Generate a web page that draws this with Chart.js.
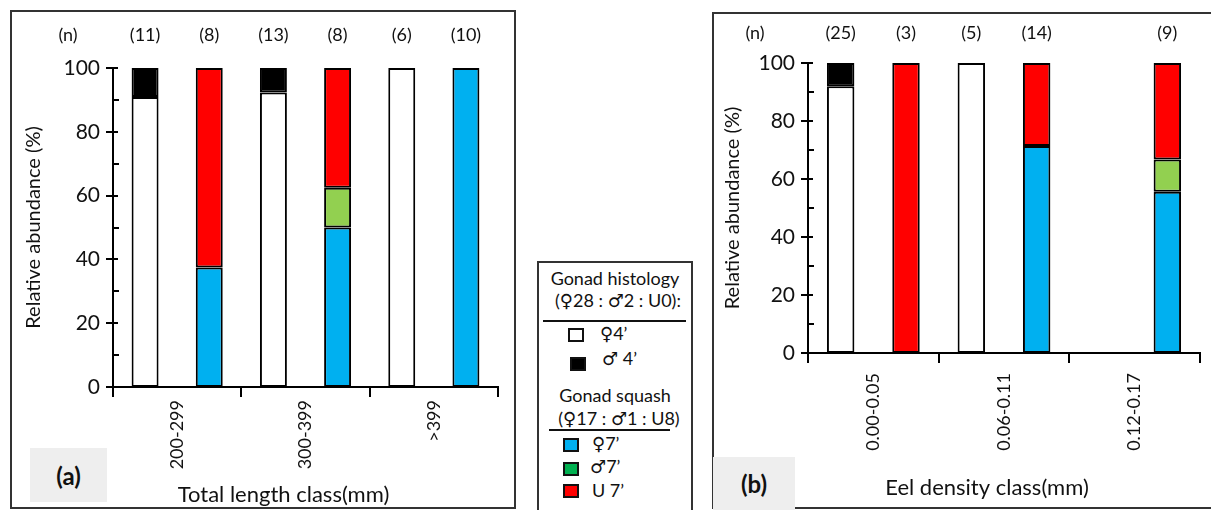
<!DOCTYPE html>
<html>
<head>
<meta charset="utf-8">
<script src="https://cdn.jsdelivr.net/npm/chart.js@4.4.0/dist/chart.umd.min.js"></script>
<style>
  body { margin: 0; width: 1211px; height: 510px; background: #fff; position: relative; overflow: hidden;
         font-family: Lato, "DejaVu Sans", sans-serif; color: #111; }
  .panel { position: absolute; border: 2px solid #333; box-sizing: border-box; }
  .tag { position: absolute; background: #eeeeee; font-weight: bold; font-size: 24px;
         display: flex; align-items: center; justify-content: center; }
  canvas { position: absolute; top: 0; }
  .lg { position: absolute; font-size: 18px; white-space: nowrap; line-height: 20px; }
  .sq { position: absolute; width: 16px; height: 14px; border: 2px solid #111; box-sizing: border-box; }
  .rule { position: absolute; height: 2px; background: #111; }
</style>
</head>
<body>
<div class="panel" style="left:10px; top:10px; width:506px; height:499px;"></div>
<div class="panel" style="left:712px; top:12px; width:520px; height:497px;"></div>
<div class="tag" style="left:30px; top:448px; width:77px; height:54px;">(a)</div>
<div class="tag" style="left:713px; top:457px; width:82px; height:53px;">(b)</div>

<canvas id="chartA" width="520" height="510" style="left:0px;"></canvas>
<canvas id="chartB" width="511" height="510" style="left:700px;"></canvas>

<div class="panel" style="left:537px; top:261px; width:156px; height:262px;"></div>
<div class="lg" style="left:537px; width:156px; text-align:center; top:268px;">Gonad histology</div>
<div class="lg" style="left:540px; width:156px; text-align:center; top:290px;">(♀28 : ♂2 : U0):</div>
<div class="rule" style="left:543px; width:143px; top:320px;"></div>
<div class="sq" style="left:568px; top:328px; background:#fff;"></div>
<div class="lg" style="left:600px; top:323px;">♀4’</div>
<div class="sq" style="left:570px; top:357px; background:#000;"></div>
<div class="lg" style="left:602px; top:348px;">♂ 4’</div>
<div class="lg" style="left:537px; width:156px; text-align:center; top:385px;">Gonad squash</div>
<div class="lg" style="left:541px; width:156px; text-align:center; top:408px;">(♀17 : ♂1 : U8)</div>
<div class="rule" style="left:549px; width:121px; top:429px;"></div>
<div class="sq" style="left:563px; top:438px; background:#00b0f0;"></div>
<div class="lg" style="left:592px; top:433px;">♀7’</div>
<div class="sq" style="left:563px; top:462px; background:#00b050;"></div>
<div class="lg" style="left:590px; top:456px;">♂7’</div>
<div class="sq" style="left:563px; top:484px; background:#ff0000;"></div>
<div class="lg" style="left:592px; top:480px;">U 7’</div>

<script>
// categories
const lengthClasses = ['200-299', '300-399', '>399'];
const densityClasses = ['0.00-0.05', '0.06-0.11', '0.12-0.17'];

// panel (a) - relative abundance (%) by total length class
const histFemaleA = [90.9, 92.3, 100];
const histMaleA = [9.1, 7.7, null];
const squashFemaleA = [37.5, 50, 100];
const squashMaleA = [null, 12.5, null];
const squashUndiffA = [62.5, 37.5, null];
const nHistA = [11, 13, 6];
const nSquashA = [8, 8, 10];

// panel (b) - relative abundance (%) by eel density class
const histFemaleB = [92, 100, null];
const histMaleB = [8, null, null];
const squashFemaleB = [null, 71.4, 55.6];
const squashMaleB = [null, null, 11.1];
const squashUndiffB = [100, 28.6, 33.3];
const nHistB = [25, 5, null];
const nSquashB = [3, 14, 9];

const FONT = 'Lato, "DejaVu Sans", sans-serif';
Chart.defaults.font.family = FONT;
Chart.defaults.color = '#111';

// tick marks on the y axis, the (n) counts and the x axis title
const panelDecor = {
    id: 'panelDecor',
    afterDraw(chart, args, opts) {
        const ctx = chart.ctx;
        const area = chart.chartArea;
        const y = chart.scales.y;
        ctx.save();
        ctx.strokeStyle = '#000';
        ctx.lineWidth = 2;
        for (let v = 0; v <= 100; v += 10) {
            const py = Math.round(y.getPixelForValue(v));
            ctx.beginPath();
            if (v % 20 === 0) {
                ctx.moveTo(area.left - 7, py);
                ctx.lineTo(area.left + 5, py);
            } else {
                ctx.moveTo(area.left, py);
                ctx.lineTo(area.left + 6, py);
            }
            ctx.stroke();
        }

        ctx.fillStyle = '#111';
        ctx.textAlign = 'center';
        ctx.textBaseline = 'middle';
        ctx.font = '18px ' + FONT;
        ctx.fillText('(n)', opts.nX, opts.nY);
        const histBars = chart.getDatasetMeta(0).data;
        const squashBars = chart.getDatasetMeta(2).data;
        opts.nHist.forEach((n, i) => {
            if (n != null) ctx.fillText('(' + n + ')', histBars[i].x, opts.nY);
        });
        opts.nSquash.forEach((n, i) => {
            if (n != null) ctx.fillText('(' + n + ')', squashBars[i].x, opts.nY);
        });

        ctx.font = '22px ' + FONT;
        ctx.fillText(opts.xTitle, (area.left + area.right) / 2 + opts.xTitleDx, opts.xTitleY);
        ctx.restore();
    }
};

function bar(data, color, stack) {
    return {
        data: data,
        stack: stack,
        backgroundColor: color,
        borderColor: '#000',
        borderWidth: 2,
        borderSkipped: false,
        categoryPercentage: 1,
        barPercentage: 0.42
    };
}

function buildPanel(id, labels, series, counts, geo) {
    return new Chart(document.getElementById(id), {
        type: 'bar',
        data: {
            labels: labels,
            datasets: [
                bar(series[0], '#ffffff', 'histology'),
                bar(series[1], '#000000', 'histology'),
                bar(series[2], '#00b0f0', 'squash'),
                bar(series[3], '#92d050', 'squash'),
                bar(series[4], '#ff0000', 'squash')
            ]
        },
        options: {
            responsive: false,
            animation: false,
            layout: { padding: { top: geo.top, right: geo.right, left: 0, bottom: 0 } },
            plugins: {
                legend: { display: false },
                tooltip: { enabled: false },
                panelDecor: {
                    nHist: counts[0],
                    nSquash: counts[1],
                    nX: geo.nX,
                    nY: geo.nY,
                    xTitle: geo.xTitle,
                    xTitleDx: geo.xTitleDx,
                    xTitleY: geo.xTitleY
                }
            },
            scales: {
                x: {
                    stacked: true,
                    grid: { offset: true, drawOnChartArea: false, tickLength: 10, color: '#000', lineWidth: 2 },
                    border: { color: '#000', width: 2 },
                    ticks: { minRotation: 90, maxRotation: 90, padding: geo.labelPad, font: { size: 18 } },
                    afterFit: s => { s.height = geo.xHeight; }
                },
                y: {
                    stacked: true,
                    min: 0,
                    max: 100,
                    ticks: { stepSize: 20, padding: 13, font: { size: 21 } },
                    grid: { display: false, drawTicks: false },
                    border: { color: '#000', width: 2 },
                    title: {
                        display: true,
                        text: 'Relative abundance (%)',
                        font: { size: 20 },
                        padding: { top: geo.yTitlePad, bottom: 0 }
                    },
                    afterFit: s => { s.width = geo.yWidth; }
                }
            }
        },
        plugins: [panelDecor]
    });
}

buildPanel('chartA', lengthClasses,
    [histFemaleA, histMaleA, squashFemaleA, squashMaleA, squashUndiffA],
    [nHistA, nSquashA],
    { top: 68, right: 22, xHeight: 123, yWidth: 113, yTitlePad: 22, labelPad: 3,
      nX: 68, nY: 35, xTitle: 'Total length class(mm)', xTitleDx: -22, xTitleY: 495 });

buildPanel('chartB', densityClasses,
    [histFemaleB, histMaleB, squashFemaleB, squashMaleB, squashUndiffB],
    [nHistB, nSquashB],
    { top: 63, right: 11, xHeight: 157, yWidth: 108, yTitlePad: 21, labelPad: 10,
      nX: 55, nY: 33, xTitle: 'Eel density class(mm)', xTitleDx: -17, xTitleY: 488 });
</script>
</body>
</html>
